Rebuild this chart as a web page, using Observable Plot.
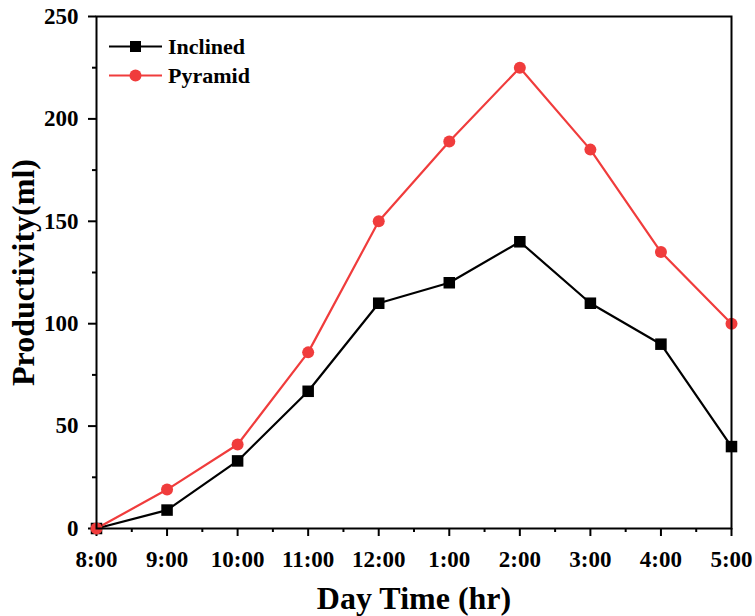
<!DOCTYPE html>
<html><head><meta charset="utf-8">
<script src="https://cdn.jsdelivr.net/npm/d3@7"></script>
<script src="https://cdn.jsdelivr.net/npm/@observablehq/plot@0.6"></script>
<style>
body{margin:0;background:#fff;}
#wrap{position:relative;width:755px;height:616px;}
#legend{position:absolute;left:108px;top:32px;font-family:"Liberation Serif",serif;font-weight:bold;font-size:22px;}
#legend div{display:flex;align-items:center;height:29px;}
#legend svg{margin-right:5px;}
</style></head><body>
<div id="wrap"><div id="legend"></div></div>
<script>
const times = ["8:00","9:00","10:00","11:00","12:00","1:00","2:00","3:00","4:00","5:00"];
const inclined = [0, 9, 33, 67, 110, 120, 140, 110, 90, 40];
const pyramid  = [0, 19, 41, 86, 150, 189, 225, 185, 135, 100];
const seriesNames = ["Inclined","Pyramid"];
const colors = {Inclined:"#000000", Pyramid:"#f03c3c"};
const yMajor = [0,50,100,150,200,250];
const yMinor = [25,75,125,175,225];

const data = [];
times.forEach((t,i)=>{
  data.push({i, t, v: inclined[i], s:"Inclined"});
  data.push({i, t, v: pyramid[i], s:"Pyramid"});
});
const xMajor = times.map((t,i)=>i);
const xMinor = times.slice(1).map((t,i)=>i+0.5);

const font = "Liberation Serif, serif";
const chart = Plot.plot({
  width:755, height:616,
  marginLeft:96, marginRight:24, marginTop:16, marginBottom:88,
  style:{fontFamily:font, fontWeight:"bold", fontSize:"23px", color:"#000", background:"#fff"},
  x:{type:"linear", domain:[0,9]},
  y:{domain:[0,250]},
  marks:[
    Plot.axisX({ticks:xMajor, tickSize:8, tickPadding:14, tickFormat:i=>times[i], label:null, strokeWidth:2, fontSize:23}),
    Plot.axisX({ticks:xMinor, tickSize:4, tickFormat:()=>"", label:null, strokeWidth:2}),
    Plot.axisX({ticks:[], label:"Day Time (hr)", labelAnchor:"center", labelArrow:"none", labelOffset:80, fontSize:32}),
    Plot.axisY({ticks:yMajor, tickSize:8, tickPadding:10, label:null, strokeWidth:2, fontSize:23}),
    Plot.axisY({ticks:yMinor, tickSize:4, tickFormat:()=>"", label:null, strokeWidth:2}),
    Plot.axisY({ticks:[], label:"Productivity(ml)", labelAnchor:"center", labelArrow:"none", labelOffset:85, fontSize:32}),
    Plot.line(data.filter(d=>d.s==="Inclined"), {x:"i", y:"v", stroke:colors.Inclined, strokeWidth:2.2}),
    Plot.line(data.filter(d=>d.s==="Pyramid"), {x:"i", y:"v", stroke:colors.Pyramid, strokeWidth:2.2}),
    Plot.dot(data.filter(d=>d.s==="Inclined"), {x:"i", y:"v", symbol:"square", r:6.5, fill:colors.Inclined}),
    Plot.dot(data.filter(d=>d.s==="Pyramid"), {x:"i", y:"v", symbol:"circle", r:6, fill:colors.Pyramid}),
    Plot.frame({stroke:"#000", strokeWidth:2})
  ]
});
document.getElementById("wrap").prepend(chart);

const lg = document.getElementById("legend");
seriesNames.forEach(s=>{
  const row = document.createElement("div");
  const c = colors[s];
  const marker = s==="Inclined"
    ? `<rect x="22" y="8" width="11" height="11" fill="${c}"/>`
    : `<circle cx="27.5" cy="13.5" r="6" fill="${c}"/>`;
  row.innerHTML = `<svg width="55" height="27"><line x1="1" x2="54" y1="13.5" y2="13.5" stroke="${c}" stroke-width="2"/>${marker}</svg><span>${s}</span>`;
  lg.appendChild(row);
});
</script>
</body></html>
